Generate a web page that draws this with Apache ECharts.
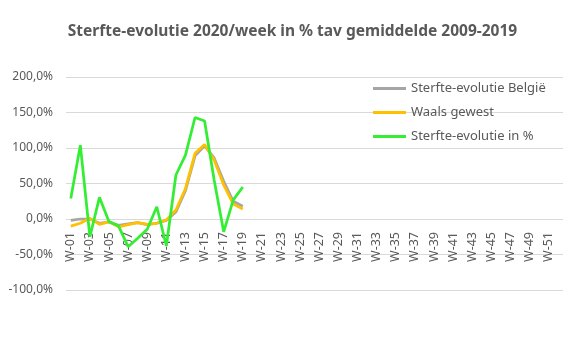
<!DOCTYPE html>
<html>
<head>
<meta charset="utf-8">
<script src="https://cdn.jsdelivr.net/npm/echarts@6/dist/echarts.min.js"></script>
<style>
html,body{margin:0;padding:0;background:#fff;}
#chart{width:585px;height:360px;}
</style>
</head>
<body>
<div id="chart"></div>
<script>
// Categories W-01 .. W-52
var weeks = ["W-01","W-02","W-03","W-04","W-05","W-06","W-07","W-08","W-09","W-10",
  "W-11","W-12","W-13","W-14","W-15","W-16","W-17","W-18","W-19","W-20",
  "W-21","W-22","W-23","W-24","W-25","W-26","W-27","W-28","W-29","W-30",
  "W-31","W-32","W-33","W-34","W-35","W-36","W-37","W-38","W-39","W-40",
  "W-41","W-42","W-43","W-44","W-45","W-46","W-47","W-48","W-49","W-50",
  "W-51","W-52"];
// Values in %
var belgie = [-2, 0, 0, -6, -4, -9, -7, -5, -8, -6, -2, 10, 40, 89, 103, 86, 53, 25, 18];
var waals = [-10, -6, 1, -7.5, -4, -11, -8, -5, -7.5, -6, -1.5, 12.7, 43, 92.5, 105, 83, 48, 21, 14];
var evolutie = [29, 104, -25, 30.5, -4, -10, -39, -27, -14.5, 17.3, -38, 62, 90, 143, 138, 55, -18, 27, 45];
var seriesNames = ["Sterfte-evolutie België", "Waals gewest", "Sterfte-evolutie in %"];

var textColor = '#595959';
var font = 'Noto Sans';
var chart = echarts.init(document.getElementById('chart'));
chart.setOption({
  animation: false,
  title: {
    text: 'Sterfte-evolutie 2020/week in % tav gemiddelde 2009-2019',
    left: 'center',
    top: 19,
    textStyle: {fontFamily: font, fontSize: 15.5, fontWeight: 'bold', color: textColor}
  },
  legend: {
    orient: 'vertical',
    left: 368,
    top: 77,
    itemWidth: 33,
    itemHeight: 3,
    itemGap: 11,
    icon: 'rect',
    textStyle: {fontFamily: font, fontSize: 13, color: textColor},
    data: seriesNames
  },
  grid: {left: 66, right: 22, top: 77, bottom: 70},
  xAxis: {
    type: 'category',
    data: weeks,
    boundaryGap: true,
    axisLine: {show: false, onZero: false},
    axisTick: {show: false},
    axisLabel: {
      rotate: 90,
      interval: 1,
      margin: -58,
      fontFamily: font,
      fontSize: 12.5,
      color: textColor
    }
  },
  yAxis: {
    type: 'value',
    min: -100,
    max: 200,
    interval: 50,
    axisLine: {show: false},
    axisTick: {show: false},
    splitLine: {lineStyle: {color: '#d9d9d9', width: 1}},
    axisLabel: {
      margin: 13,
      fontFamily: font,
      fontSize: 12,
      color: textColor,
      formatter: function (v) { return v.toFixed(1).replace('.', ',') + '%'; }
    }
  },
  series: [
    {name: seriesNames[0], type: 'line', data: belgie, symbol: 'none',
     lineStyle: {color: '#A5A5A5', width: 2.75}, itemStyle: {color: '#A5A5A5'}},
    {name: seriesNames[1], type: 'line', data: waals, symbol: 'none',
     lineStyle: {color: '#FFC000', width: 2.75}, itemStyle: {color: '#FFC000'}},
    {name: seriesNames[2], type: 'line', data: evolutie, symbol: 'none',
     lineStyle: {color: '#33EE33', width: 2.75}, itemStyle: {color: '#33EE33'}}
  ]
});
</script>
</body>
</html>
